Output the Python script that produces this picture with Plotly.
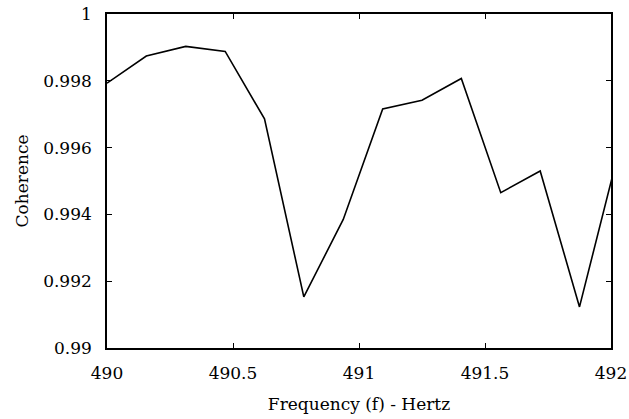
import plotly.graph_objects as go

frequency = [490.0, 490.156, 490.3125, 490.469, 490.625, 490.781, 490.9375,
             491.094, 491.25, 491.406, 491.5625, 491.719, 491.875, 492.031]
coherence = [0.99793, 0.99874, 0.99903, 0.99888, 0.99686, 0.99153, 0.99385,
             0.99716, 0.99742, 0.99807, 0.99465, 0.99530, 0.99123, 0.99590]

x_tickvals = [490, 490.5, 491, 491.5, 492]
x_ticktext = ["490", "490.5", "491", "491.5", "492"]
y_tickvals = [0.99, 0.992, 0.994, 0.996, 0.998, 1.0]
y_ticktext = ["0.99", "0.992", "0.994", "0.996", "0.998", "1"]

FONT = "DejaVu Serif"

fig = go.Figure()
fig.add_trace(go.Scatter(x=frequency, y=coherence, mode="lines",
                         line=dict(color="black", width=1.6),
                         showlegend=False, hoverinfo="skip"))

axis_common = dict(showgrid=False, zeroline=False, showline=True,
                   linecolor="black", linewidth=1.6, mirror="ticks",
                   ticks="inside", ticklen=5, tickwidth=1, tickcolor="black",
                   automargin=False,
                   tickfont=dict(family=FONT, size=17, color="black"))

fig.update_xaxes(range=[490, 492], tickvals=x_tickvals, ticktext=x_ticktext,
                 ticklabelstandoff=9,
                 title=dict(text="Frequency (f) - Hertz", standoff=16,
                            font=dict(family=FONT, size=17, color="black")),
                 **axis_common)
fig.update_yaxes(range=[0.99, 1.0], tickvals=y_tickvals, ticktext=y_ticktext,
                 ticklabelstandoff=10,
                 title=dict(text="Coherence", standoff=10,
                            font=dict(family=FONT, size=17, color="black")),
                 **axis_common)

fig.update_layout(width=629, height=419, margin=dict(l=107, r=18, t=14, b=71),
                  plot_bgcolor="white", paper_bgcolor="white",
                  font=dict(family=FONT, size=17, color="black"))

fig.write_html("out.html")
